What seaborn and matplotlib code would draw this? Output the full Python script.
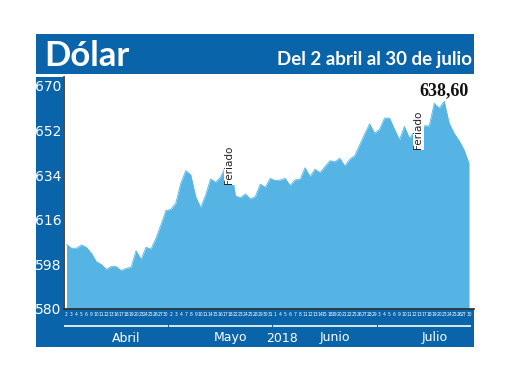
import matplotlib
matplotlib.use("Agg")
import matplotlib.pyplot as plt
from matplotlib.patches import Rectangle
import numpy as np
import pandas as pd
import seaborn as sns

# trading days shown on the x axis, by month (2018)
dias_abril = [2, 3, 4, 5, 6, 9, 10, 11, 12, 13, 16, 17, 18, 19, 20, 23, 24, 25, 26, 27, 30]
dias_mayo = [2, 3, 4, 7, 8, 9, 10, 11, 14, 15, 16, 17, 18, 22, 23, 24, 25, 28, 29, 30, 31]
dias_junio = [1, 4, 5, 6, 7, 8, 11, 12, 13, 14, 15, 18, 19, 20, 21, 22, 25, 26, 27, 28, 29]
dias_julio = [3, 4, 5, 6, 9, 10, 11, 12, 13, 17, 18, 19, 20, 23, 24, 25, 26, 27, 30]
meses = ["Abril", "Mayo", "Junio", "Julio"]

# dollar value per trading day
valores = [
    606.1, 604.5, 604.5, 605.8, 604.9, 602.5, 599.1, 598.0, 596.0, 597.1,
    597.1, 595.5, 596.4, 596.8, 603.5, 600.0, 604.9, 604.2, 608.5, 613.9,
    619.7, 620.2, 622.7, 630.7, 635.8, 634.1, 625.3, 620.9, 626.0, 632.5,
    631.1, 633.2, 637.4, 638.1, 625.6, 624.9, 626.4, 624.4, 625.3, 630.4,
    629.1, 632.7, 631.8, 632.0, 632.7, 629.8, 632.1, 632.3, 637.0, 633.4,
    636.4, 635.0, 637.4, 639.8, 639.4, 640.8, 637.7, 640.4, 641.9, 646.2,
    650.6, 654.7, 650.9, 652.5, 657.0, 657.0, 652.5, 648.2, 653.6, 648.9,
    651.6, 652.2, 653.9, 653.9, 663.0, 661.0, 663.8, 654.9, 650.9, 647.9,
    644.2, 638.6,
]
yticks = [580, 598, 616, 634, 652, 670]
# holidays: (month, last trading day before the holiday)
feriados = [("Mayo", 18), ("Julio", 13)]

titulo = "Dólar"
subtitulo = "Del 2 abril al 30 de julio"
anio = "2018"

AZUL = "#0a64aa"
CELESTE = "#55b4e3"
OSCURO = "#2a2a2a"
NARROW = ["Liberation Sans Narrow", "DejaVu Sans"]

dias = [dias_abril, dias_mayo, dias_junio, dias_julio]
df = pd.DataFrame({
    "mes": np.repeat(meses, [len(d) for d in dias]),
    "dia": sum(dias, []),
    "valor": valores,
})
df["idx"] = np.arange(len(df))

sns.set_theme(style="white")
plt.rcParams["font.family"] = NARROW

W, H = 520, 390
fig = plt.figure(figsize=(W / 100, H / 100), dpi=100)
fig.patch.set_facecolor("white")


def px(x0, y0, x1, y1):
    return [x0 / W, 1 - y1 / H, (x1 - x0) / W, (y1 - y0) / H]


# blue frame: title band, left strip, bottom band
for box in [px(36, 34, 474, 74), px(36, 77, 63, 347), px(36, 309, 474, 347)]:
    fig.add_artist(Rectangle((box[0], box[1]), box[2], box[3],
                             transform=fig.transFigure, facecolor=AZUL,
                             edgecolor="none", zorder=-1))

fig.text(44 / W, 1 - 66 / H, titulo, color="white", fontsize=25,
         family="Lato", fontweight="bold", va="baseline")
fig.text(472 / W, 1 - 65 / H, subtitulo, color="white", fontsize=13.5,
         family="Lato", fontweight="bold", va="baseline", ha="right")

ax = fig.add_axes(px(64, 77, 474, 309))
ax.set_facecolor("white")

ax.fill_between(df["idx"], df["valor"], 580, color=CELESTE, linewidth=0)
sns.lineplot(data=df, x="idx", y="valor", ax=ax, color=CELESTE, linewidth=0.6)

ax.set_xlim(-0.5, len(df) + 0.0)
ax.set_ylim(580, 673.6)
ax.set_yticks(yticks)
ax.set_yticklabels([str(v) for v in yticks], color="white", fontsize=10)
ax.set_xticks(df["idx"])
ax.set_xticklabels(df["dia"].astype(str), color="white", fontsize=3.6)
for t in ax.get_xticklabels():
    t.set_fontstretch("condensed")
ax.tick_params(axis="y", direction="in", length=6, width=1.6, color=OSCURO, pad=2)
ax.tick_params(axis="x", length=0, pad=1.8)
ax.set_xlabel("")
ax.set_ylabel("")

for s in ["top", "right"]:
    ax.spines[s].set_visible(False)
for s in ["left", "bottom"]:
    ax.spines[s].set_color(OSCURO)
    ax.spines[s].set_linewidth(1.2)

# month separators and labels under the day numbers
xt = ax.get_xaxis_transform()
for i, mes in enumerate(meses):
    sub = df[df["mes"] == mes]
    a, b = sub["idx"].min() - 0.4, sub["idx"].max() + 0.4
    ax.plot([a, b], [-0.075, -0.075], transform=xt, color="white",
            linewidth=1.2, clip_on=False, solid_capstyle="butt")
    ax.text((a + b) / 2 + 2, -0.125, mes, transform=xt, color="white",
            fontsize=9, ha="center", va="center", family="DejaVu Sans")
inicio_junio = df[df["mes"] == "Junio"]["idx"].min()
ax.text(inicio_junio + 1.3, -0.125, anio, transform=xt, color="white",
        fontsize=9, ha="center", va="center", family="DejaVu Sans")

# holiday marks
for mes, dia in feriados:
    fila = df[(df["mes"] == mes) & (df["dia"] == dia)].iloc[0]
    ax.text(fila["idx"] - 0.2, fila["valor"], "Feriado", rotation=90,
            fontsize=7.5, color="#222222", ha="center", va="center",
            bbox=dict(facecolor="white", edgecolor="none", pad=0.5))

# last value label
ax.text(df["idx"].iloc[-1] - 5, 668, f"{valores[-1]:.2f}".replace(".", ","),
        fontsize=13, fontweight="bold", family="Liberation Serif",
        color="#111111", ha="center", va="center")

fig.savefig("out.png", dpi=100, facecolor="white")
